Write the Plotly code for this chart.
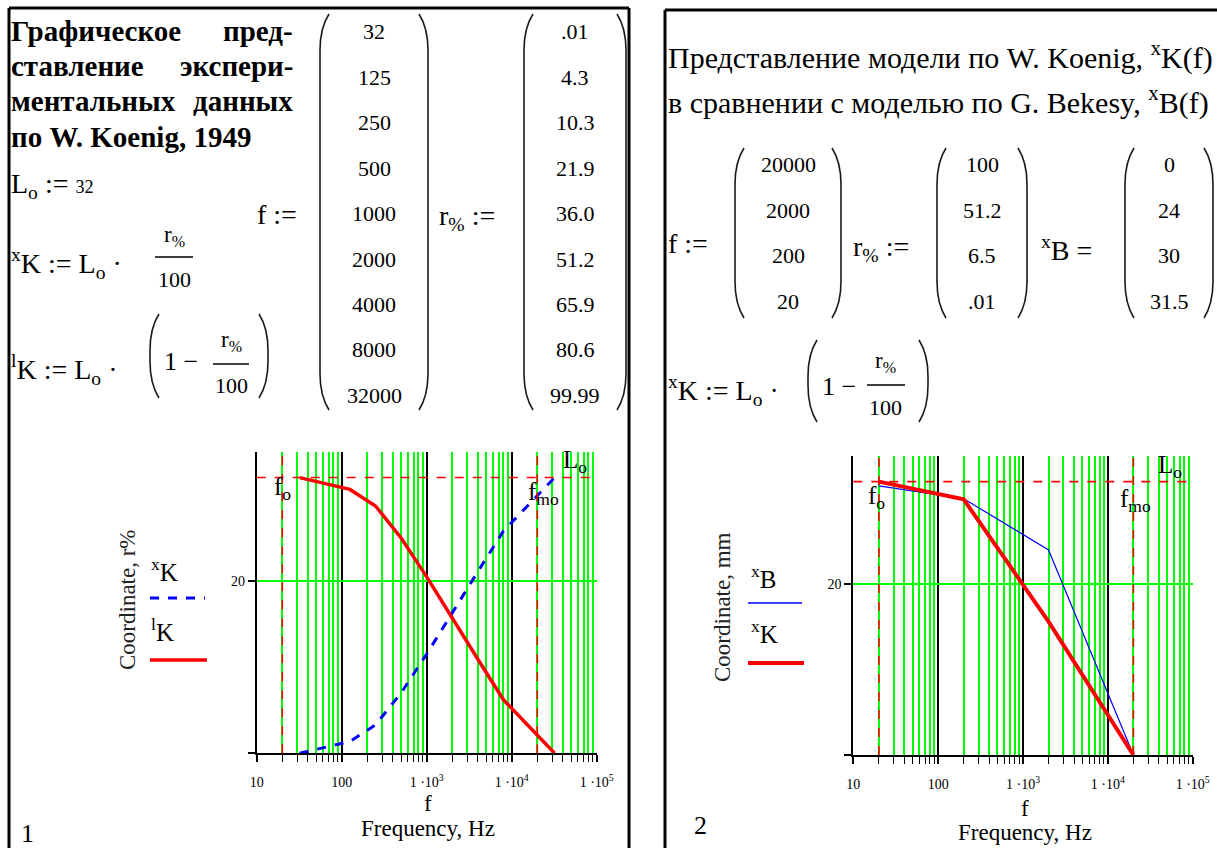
import plotly.graph_objects as go

# ---------------- data ----------------
L_o = 32
f_o = 20
f_mo = 20000

# panel 1 (W. Koenig, 1949)
f1 = [32, 125, 250, 500, 1000, 2000, 4000, 8000, 32000]
r1 = [0.01, 4.3, 10.3, 21.9, 36.0, 51.2, 65.9, 80.6, 99.99]
r1_text = [".01", "4.3", "10.3", "21.9", "36.0", "51.2", "65.9", "80.6", "99.99"]

# panel 2 (Koenig vs Bekesy)
f2 = [20000, 2000, 200, 20]
r2 = [100, 51.2, 6.5, 0.01]
r2_text = ["100", "51.2", "6.5", ".01"]
xB2 = [0, 24, 30, 31.5]
xB2_text = ["0", "24", "30", "31.5"]

x_tickvals = [10, 100, 1000, 10000, 100000]
x_ticktext = ["10", "100", "1 ·10<sup>3</sup>", "1 ·10<sup>4</sup>", "1 ·10<sup>5</sup>"]
y_tickvals = [0, 20]
y_ticktext = ["", "20"]

# derived series
xK1 = [L_o * r / 100 for r in r1]
lK1 = [L_o * (1 - r / 100) for r in r1]
xK2 = [L_o * (1 - r / 100) for r in r2]

W, H = 1217, 848
SERIF = "Liberation Serif, Times New Roman, serif"

def px(x):
    return x / W

def py(y):
    return 1 - y / H

annotations = []
shapes = []

def text(x, y, s, size=24, anchor="left", bold=False, color="black", angle=0):
    if bold:
        s = "<b>" + s + "</b>"
    annotations.append(dict(x=px(x), y=py(y), xref="paper", yref="paper", text=s,
                            showarrow=False, xanchor=anchor, yanchor="middle",
                            textangle=angle, borderpad=0,
                            font=dict(family=SERIF, size=size, color=color)))

def line(x0, y0, x1, y1, color="black", width=1.5, dash="solid"):
    shapes.append(dict(type="line", xref="paper", yref="paper",
                       x0=px(x0), y0=py(y0), x1=px(x1), y1=py(y1),
                       line=dict(color=color, width=width, dash=dash)))

def paren(x, y0, y1, side, w=9, c=14, color="#1a1a1a"):
    s = 1 if side == "left" else -1
    pts = [(x + s * w, y0), (x, y0 + c), (x, y0 + 2.6 * c), (x, y1 - 2.6 * c),
           (x, y1 - c), (x + s * w, y1)]
    p = [(px(a), py(b)) for a, b in pts]
    path = ("M {0[0]},{0[1]} Q {1[0]},{1[1]} {2[0]},{2[1]} L {3[0]},{3[1]} "
            "Q {4[0]},{4[1]} {5[0]},{5[1]}").format(*p)
    shapes.append(dict(type="path", xref="paper", yref="paper", path=path,
                       line=dict(color=color, width=1.6)))

def matrix(xl, xr, ytop, ybot, values, ys, size=22):
    paren(xl, ytop, ybot, "left")
    paren(xr, ytop, ybot, "right")
    xc = (xl + xr) / 2
    for v, yy in zip(values, ys):
        text(xc, yy, v, size=size, anchor="center")

def fraction(xc, y_num, y_line, y_den, half, size=23):
    text(xc, y_num, "r<sub>%</sub>", size=size, anchor="center")
    line(xc - half, y_line, xc + half, y_line, width=1.3)
    text(xc, y_den, "100", size=size - 1, anchor="center")

NB = "&nbsp;"

# ---------------- panel borders ----------------
line(9, 8, 9, 848, width=3)
line(9, 8, 629, 8, width=3)
line(629, 8, 629, 848, width=3)
line(665, 10, 665, 848, width=3)
line(665, 10, 1217, 10, width=3)

# ---------------- left panel text ----------------
TS = 29
text(10, 31, "Графическое", TS, bold=True)
text(294, 31, "пред-", TS, anchor="right", bold=True)
text(10, 66, "ставление", TS, bold=True)
text(294, 66, "экспери-", TS, anchor="right", bold=True)
text(10, 101, "ментальных", TS, bold=True)
text(294, 101, "данных", TS, anchor="right", bold=True)
text(10, 137, "по W. Koenig, 1949", TS, bold=True)

MS = 28
text(10, 185, "L<sub>o</sub>" + NB + ":=" + NB + "<span style='font-size:18px'>32</span>", MS)
text(256, 214, "f" + NB + ":=", MS)
text(10, 263, "<sup>x</sup>K" + NB + ":=" + NB + "L<sub>o</sub>" + NB + "·", MS)
fraction(174, 236, 257, 279, 19)
text(10, 369, "<sup>l</sup>K" + NB + ":=" + NB + "L<sub>o</sub>" + NB + "·", MS)
paren(150, 314, 398, "left")
paren(268, 314, 398, "right")
text(163, 362, "1" + NB + "−", 26)
fraction(231, 341, 364, 385, 18)

ys1 = [32 + i * 45.4 for i in range(len(f1))]
matrix(320, 428, 14, 410, [str(v) for v in f1], ys1)
text(438, 218, "r<sub>%</sub>" + NB + ":=", MS)
matrix(524, 626, 14, 410, r1_text, ys1)

# chart 1 legend / labels
text(127, 600, "Coordinate, r%", 23, anchor="center", angle=-90, color="#222")
text(150, 570, "<sup>x</sup>K", 25)
line(150, 598, 205, 598, color="#0000ff", width=3, dash="dash")
text(150, 630, "<sup>l</sup>K", 25)
line(150, 660, 207, 660, color="#ff0000", width=3.5)
text(428, 803, "f", 23, anchor="center")
text(428, 828, "Frequency, Hz", 23, anchor="center")
text(273, 488, "f<sub>o</sub>", 25)
text(527, 493, "f<sub>mo</sub>", 25)
text(562, 461, "L<sub>o</sub>", 25)
text(20, 833, "1", 26)

# ---------------- right panel text ----------------
text(667, 55, "Представление модели по W. Koenig, <sup>x</sup>K(f)", 30)
text(667, 100, "в сравнении с моделью по G. Bekesy, <sup>x</sup>B(f)", 30)
ys2 = [165 + i * 45.4 for i in range(len(f2))]
text(667, 243, "f" + NB + ":=", MS)
matrix(735, 841, 148, 318, [str(v) for v in f2], ys2)
text(852, 248, "r<sub>%</sub>" + NB + ":=", MS)
matrix(937, 1027, 148, 318, r2_text, ys2)
text(1040, 248, "<sup>x</sup>B" + NB + "=", MS)
matrix(1125, 1213, 148, 318, xB2_text, ys2)
text(667, 390, "<sup>x</sup>K" + NB + ":=" + NB + "L<sub>o</sub>" + NB + "·", MS)
paren(808, 340, 422, "left")
paren(928, 340, 422, "right")
text(821, 386, "1" + NB + "−", 26)
fraction(886, 362, 385, 407, 19)

text(722, 607, "Coordinate, mm", 23, anchor="center", angle=-90, color="#222")
text(750, 577, "<sup>x</sup>B", 25)
line(748, 603, 802, 603, color="#0000ff", width=1.5)
text(750, 632, "<sup>x</sup>K", 25)
line(748, 663, 804, 663, color="#ff0000", width=4)
text(1025, 808, "f", 23, anchor="center")
text(1025, 832, "Frequency, Hz", 23, anchor="center")
text(867, 497, "f<sub>o</sub>", 25)
text(1119, 500, "f<sub>mo</sub>", 25)
text(1157, 466, "L<sub>o</sub>", 25)
text(693, 825, "2", 26)

# ---------------- charts ----------------
fig = go.Figure()
fig.add_trace(go.Scatter(x=f1, y=xK1, mode="lines", xaxis="x", yaxis="y",
                         line=dict(color="#0000ff", width=3, dash="dash"), name="xK"))
fig.add_trace(go.Scatter(x=f1, y=lK1, mode="lines", xaxis="x", yaxis="y",
                         line=dict(color="#ff0000", width=3.5), name="lK"))
fig.add_trace(go.Scatter(x=f2, y=xB2, mode="lines", xaxis="x2", yaxis="y2",
                         line=dict(color="#0000ff", width=1.2), name="xB"))
fig.add_trace(go.Scatter(x=f2, y=xK2, mode="lines", xaxis="x2", yaxis="y2",
                         line=dict(color="#ff0000", width=4), name="xK"))

minor_vals = [m * 10 ** k for k in range(1, 5) for m in range(2, 10)]

def xaxis_cfg(x0, x1, anchor):
    return dict(type="log", range=[1, 5], domain=[px(x0), px(x1)], anchor=anchor,
                automargin=False,
                tickmode="array", tickvals=x_tickvals, ticktext=x_ticktext,
                showgrid=True, gridcolor="black", gridwidth=1.8,
                showline=True, linecolor="black", linewidth=1.8,
                ticks="outside", ticklen=7, tickcolor="black", tickwidth=1.5,
                ticklabelstandoff=8,
                tickfont=dict(family=SERIF, size=14, color="black"),
                minor=dict(tickmode="array", tickvals=minor_vals, showgrid=True,
                           gridcolor="#00ff00", gridwidth=1.8, ticks="outside",
                           ticklen=7, tickcolor="black", tickwidth=1.4),
                zeroline=False, fixedrange=True)

def yaxis_cfg(ytop, ybot, anchor):
    return dict(range=[0, 35], domain=[py(ybot), py(ytop)], anchor=anchor,
                automargin=False,
                tickmode="array", tickvals=y_tickvals, ticktext=y_ticktext,
                showgrid=True, gridcolor="#00ff00", gridwidth=1.8,
                showline=True, linecolor="black", linewidth=1.8,
                ticks="outside", ticklen=7, tickcolor="black", tickwidth=1.5,
                tickfont=dict(family=SERIF, size=14, color="black"),
                zeroline=False, fixedrange=True)

# marker lines (Mathcad markers)
for xr, yr in (("x", "y"), ("x2", "y2")):
    for fv in (f_o, f_mo):
        shapes.append(dict(type="line", xref=xr, yref=yr + " domain", x0=fv, x1=fv,
                           y0=0, y1=1, line=dict(color="#ff0000", width=1.6, dash="dash")))
    shapes.append(dict(type="line", xref=xr + " domain", yref=yr, x0=0, x1=1,
                       y0=L_o, y1=L_o, line=dict(color="#ff0000", width=1.6, dash="dash")))

fig.update_layout(
    width=W, height=H, autosize=False, margin=dict(l=0, r=0, t=0, b=0, pad=0),
    paper_bgcolor="white", plot_bgcolor="white", showlegend=False,
    xaxis=xaxis_cfg(256.7, 596.7, "y"),
    yaxis=yaxis_cfg(451.7, 753.3, "x"),
    xaxis2=xaxis_cfg(853.3, 1192.7, "y2"),
    yaxis2=yaxis_cfg(456, 755, "x2"),
    annotations=annotations, shapes=shapes,
    font=dict(family=SERIF, color="black"),
)

post = """
document.documentElement.style.overflow = 'hidden';
document.body.style.margin = '0';
document.body.style.overflow = 'hidden';
"""

fig.write_html("out.html",
               config={"responsive": False, "displayModeBar": False},
               post_script=post)
